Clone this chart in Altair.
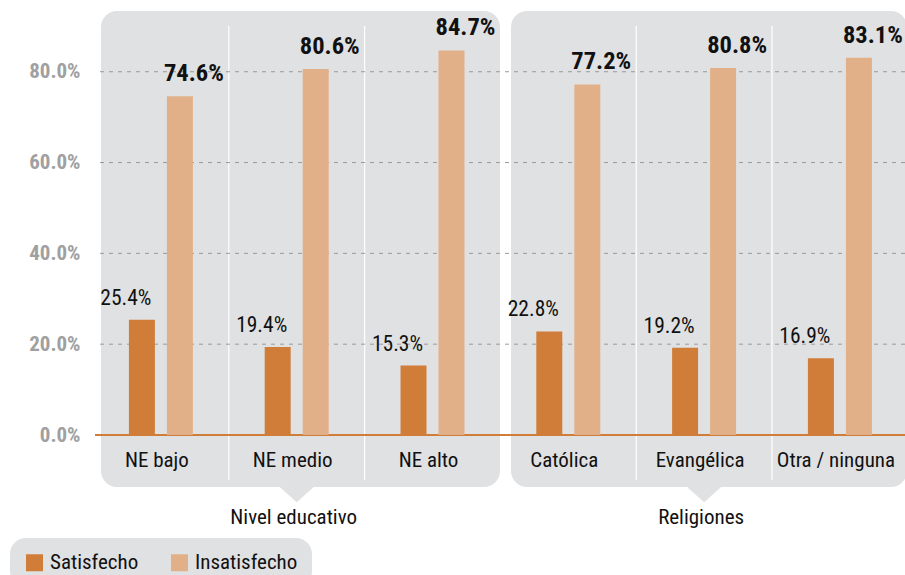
import altair as alt
import pandas as pd

# ---- data ----
categories = ["NE bajo", "NE medio", "NE alto", "Católica", "Evangélica", "Otra / ninguna"]
satisfecho = [25.4, 19.4, 15.3, 22.8, 19.2, 16.9]
insatisfecho = [74.6, 80.6, 84.7, 77.2, 80.8, 83.1]
series = ["Satisfecho", "Insatisfecho"]
y_ticks = [0, 20, 40, 60, 80]
groups = ["Nivel educativo", "Religiones"]
group_anchor = ["NE medio", "Evangélica"]
separators = ["NE medio", "NE alto", "Evangélica", "Otra / ninguna"]

# ---- styles ----
FONT = "Roboto Condensed, Roboto, sans-serif"
ORANGE = "#D07D3A"
LIGHT = "#E2B088"
PANEL = "#E0E1E3"

rows = []
for c, s, i in zip(categories, satisfecho, insatisfecho):
    rows.append({"category": c, "series": "Satisfecho", "value": s})
    rows.append({"category": c, "series": "Insatisfecho", "value": i})
df = pd.DataFrame(rows)

x_scale = alt.Scale(domain=categories, range=[-2, 812.8], paddingInner=0, paddingOuter=0)
y_scale = alt.Scale(domain=[0, 94.7], nice=False, zero=True)
xo_scale = alt.Scale(domain=series, paddingInner=0.316, paddingOuter=0.945)

x_axis = alt.Axis(title=None, domain=False, ticks=False, grid=False, labelAngle=0,
                  labelFont=FONT, labelFontSize=21, labelColor="#111111",
                  labelPadding=14, labelOffset=-4, zindex=1)
y_axis = alt.Axis(title=None, domain=False, ticks=False, grid=False, values=y_ticks,
                  labelExpr="format(datum.value, '.1f') + '%'",
                  labelFont=FONT, labelFontSize=21, labelFontWeight="bold",
                  labelColor="#A0A0A0", labelPadding=15, zindex=1)


def X(field="category:N", **kw):
    return alt.X(field, scale=x_scale, axis=x_axis, **kw)


def Y(field, **kw):
    return alt.Y(field, scale=y_scale, axis=y_axis, **kw)


one = pd.DataFrame({"k": [0]})

panel1 = alt.Chart(one).mark_rect(color=PANEL, cornerRadius=16).encode(
    x=alt.value(6), x2=alt.value(405), y=alt.value(6), y2=alt.value(482))
panel2 = alt.Chart(one).mark_rect(color=PANEL, cornerRadius=16).encode(
    x=alt.value(416), x2=alt.value(812), y=alt.value(6), y2=alt.value(482))

gdf = pd.DataFrame({"category": group_anchor, "group": groups})
pointers = alt.Chart(gdf).mark_point(
    shape="M-1,0L1,0L0,0.9Z", filled=True, fill=PANEL, opacity=1, strokeWidth=0, size=1156
).encode(x=X(), y=alt.value(482))

group_text = alt.Chart(gdf).mark_text(
    font=FONT, fontSize=21, color="#111111", baseline="middle", dx=-3
).encode(x=X(), y=alt.value(513), text="group:N")

sep = alt.Chart(pd.DataFrame({"category": separators})).mark_rule(
    color="white", strokeWidth=1.2
).encode(x=X(bandPosition=0), y=alt.value(21), y2=alt.value(475))

grid = alt.Chart(pd.DataFrame({"tick": y_ticks[1:]})).mark_rule(
    color="#9a9a9a", strokeDash=[4, 5], strokeWidth=1
).encode(y=Y("tick:Q"))

base_line = alt.Chart(pd.DataFrame({"tick": [0]})).mark_rule(
    color=ORANGE, strokeWidth=2
).encode(y=Y("tick:Q"))

bars = alt.Chart(df).mark_bar().encode(
    x=X(),
    xOffset=alt.XOffset("series:N", scale=xo_scale),
    y=Y("value:Q"),
    color=alt.Color("series:N", scale=alt.Scale(domain=series, range=[ORANGE, LIGHT]),
                    legend=alt.Legend(title=None, orient="none", legendX=-85, legendY=533,
                                      direction="horizontal", symbolType="square",
                                      symbolSize=289, symbolStrokeWidth=0, symbolOpacity=1,
                                      labelFont=FONT, labelFontSize=21, labelColor="#111111",
                                      fillColor=PANEL, cornerRadius=16, padding=14,
                                      columnPadding=30, labelOffset=5)),
)

label_calc = "format(datum.value, '.1f') + '%'"
lab_sat = alt.Chart(df).transform_filter(alt.datum.series == "Satisfecho").transform_calculate(
    label=label_calc).mark_text(font=FONT, fontSize=21.5, color="#111111", dx=-16, dy=-15,
                                baseline="alphabetic").encode(
    x=X(), xOffset=alt.XOffset("series:N", scale=xo_scale), y=Y("value:Q"), text="label:N")

lab_ins = alt.Chart(df).transform_filter(alt.datum.series == "Insatisfecho").transform_calculate(
    label=label_calc).mark_text(font=FONT, fontSize=24.5, fontWeight="bold", color="#111111",
                                dx=14, dy=-15, baseline="alphabetic").encode(
    x=X(), xOffset=alt.XOffset("series:N", scale=xo_scale), y=Y("value:Q"), text="label:N")

chart = alt.layer(
    panel1, panel2, pointers, group_text, sep, grid, base_line, bars, lab_sat, lab_ins
).properties(
    width=810, height=430,
    padding={"left": 95, "top": 5, "right": 0, "bottom": 140},
    autosize=alt.AutoSizeParams(type="none"),
    background="white",
).configure_view(stroke=None)

chart.save("out.html", embed_options={"renderer": "svg", "actions": False})
